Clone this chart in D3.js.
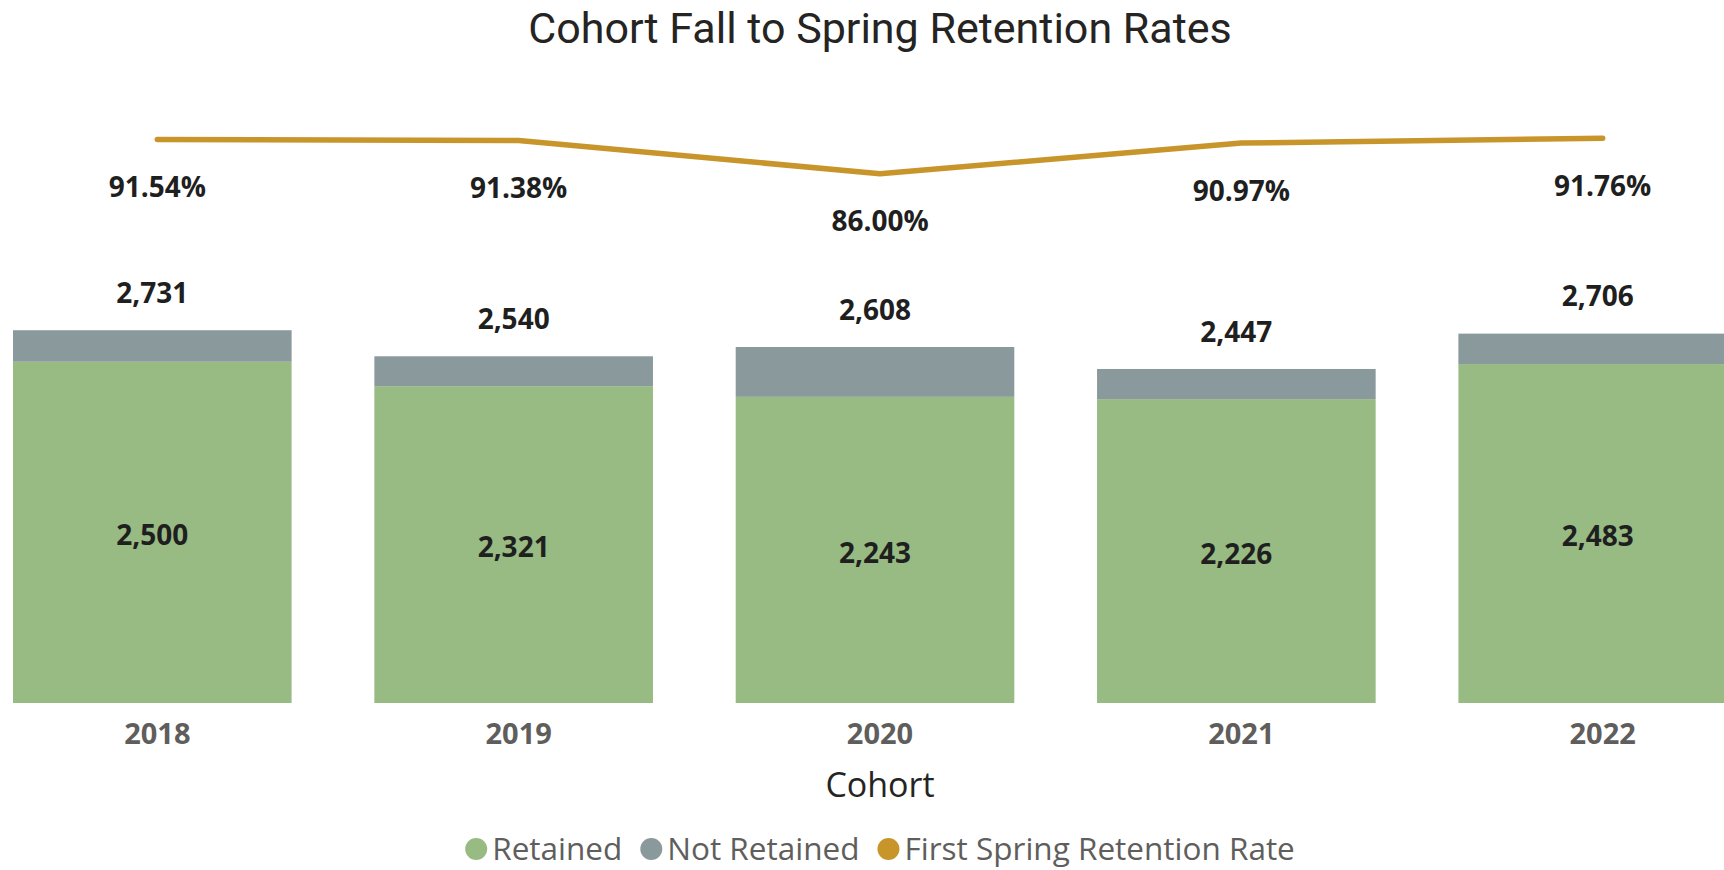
<!DOCTYPE html>
<html>
<head>
<meta charset="utf-8">
<script src="https://cdn.jsdelivr.net/npm/d3@7"></script>
<style>
    body { margin: 0; background: #fff; }
    svg { display: block; }
</style>
</head>
<body>
<div id="chart"></div>
<script>
// Cohort data
const cohorts = ['2018', '2019', '2020', '2021', '2022'];
const retained = [2500, 2321, 2243, 2226, 2483];
const notRetained = [231, 219, 365, 221, 223];
const totals = [2731, 2540, 2608, 2447, 2706];
const retentionRate = [91.54, 91.38, 86.00, 90.97, 91.76];
const legendItems = ['Retained', 'Not Retained', 'First Spring Retention Rate'];

const colors = {
    retained: '#97BB83',
    notRetained: '#8A999B',
    rate: '#C8952B'
};

function drawChart() {
    const width = 1724, height = 870;
    const svg = d3.select('#chart').append('svg')
        .attr('width', width)
        .attr('height', height);

    // Title
    svg.append('text')
        .attr('x', 880)
        .attr('y', 43)
        .attr('text-anchor', 'middle')
        .attr('font-family', 'Roboto, sans-serif')
        .attr('font-size', 43)
        .attr('fill', '#252423')
        .text('Cohort Fall to Spring Retention Rates');

    // Scales
    const x = d3.scaleBand()
        .domain(cohorts)
        .range([13, 1737])
        .paddingInner(0.229)
        .paddingOuter(0);

    const y = d3.scaleLinear()
        .domain([0, 5000])
        .range([703, 20.5]);

    const yRate = d3.scaleLinear()
        .domain([80, 95])
        .range([210.6, 118.3]);

    // the line and axis labels sit a little right of the bar centre
    const shift = 5;
    const cx = d => x(d) + x.bandwidth() / 2;

    const rows = cohorts.map((c, i) => ({
        cohort: c,
        retained: retained[i],
        notRetained: notRetained[i],
        total: totals[i],
        rate: retentionRate[i]
    }));

    // Bars
    svg.selectAll('.bar-retained')
        .data(rows)
        .join('rect')
        .attr('class', 'bar-retained')
        .attr('x', d => x(d.cohort))
        .attr('width', x.bandwidth())
        .attr('y', d => y(d.retained))
        .attr('height', d => y(0) - y(d.retained))
        .attr('fill', colors.retained);

    svg.selectAll('.bar-not')
        .data(rows)
        .join('rect')
        .attr('class', 'bar-not')
        .attr('x', d => x(d.cohort))
        .attr('width', x.bandwidth())
        .attr('y', d => y(d.retained + d.notRetained))
        .attr('height', d => y(d.retained) - y(d.retained + d.notRetained))
        .attr('fill', colors.notRetained);

    const fmt = d3.format(',');
    const labelFont = '"Open Sans", sans-serif';

    // Retained labels inside bars
    svg.selectAll('.lbl-in')
        .data(rows)
        .join('text')
        .attr('class', 'lbl-in')
        .attr('x', d => cx(d.cohort))
        .attr('y', d => (y(d.retained) + y(0)) / 2 + 3)
        .attr('dy', '0.35em')
        .attr('text-anchor', 'middle')
        .attr('font-family', labelFont)
        .attr('font-weight', 700)
        .attr('font-size', 28)
        .attr('fill', '#1f1f1f')
        .text(d => fmt(d.retained));

    // Totals above bars
    svg.selectAll('.lbl-total')
        .data(rows)
        .join('text')
        .attr('class', 'lbl-total')
        .attr('x', d => cx(d.cohort))
        .attr('y', d => y(d.total) - 37)
        .attr('dy', '0.35em')
        .attr('text-anchor', 'middle')
        .attr('font-family', labelFont)
        .attr('font-weight', 700)
        .attr('font-size', 28)
        .attr('fill', '#1f1f1f')
        .text(d => fmt(d.total));

    // Retention rate line
    const line = d3.line()
        .x(d => cx(d.cohort) + shift)
        .y(d => yRate(d.rate));

    svg.append('path')
        .datum(rows)
        .attr('d', line)
        .attr('fill', 'none')
        .attr('stroke', colors.rate)
        .attr('stroke-width', 5.5)
        .attr('stroke-linecap', 'round')
        .attr('stroke-linejoin', 'round');

    svg.selectAll('.lbl-rate')
        .data(rows)
        .join('text')
        .attr('class', 'lbl-rate')
        .attr('x', d => cx(d.cohort) + shift)
        .attr('y', d => yRate(d.rate) + 48)
        .attr('dy', '0.35em')
        .attr('text-anchor', 'middle')
        .attr('font-family', labelFont)
        .attr('font-weight', 700)
        .attr('font-size', 28)
        .attr('fill', '#1f1f1f')
        .text(d => d.rate.toFixed(2) + '%');

    // X axis (no line, no ticks)
    const xAxis = svg.append('g')
        .attr('transform', `translate(${shift},703)`)
        .call(d3.axisBottom(x).tickSize(0).tickPadding(0));
    xAxis.select('.domain').remove();
    xAxis.selectAll('text')
        .attr('y', 31)
        .attr('dy', '0.35em')
        .attr('font-family', labelFont)
        .attr('font-weight', 700)
        .attr('font-size', 29)
        .attr('fill', '#605E5C');

    // Axis title
    svg.append('text')
        .attr('x', 880)
        .attr('y', 785)
        .attr('dy', '0.35em')
        .attr('text-anchor', 'middle')
        .attr('font-family', labelFont)
        .attr('font-size', 34)
        .attr('fill', '#252423')
        .text('Cohort');

    // Legend
    const legendColors = [colors.retained, colors.notRetained, colors.rate];
    const legend = svg.append('g');
    let lx = 0;
    legendItems.forEach((name, i) => {
        const item = legend.append('g').attr('transform', `translate(${lx},0)`);
        item.append('circle')
            .attr('cx', 11)
            .attr('cy', 0)
            .attr('r', 11)
            .attr('fill', legendColors[i]);
        const t = item.append('text')
            .attr('x', 27)
            .attr('y', 0)
            .attr('dy', '0.35em')
            .attr('font-family', labelFont)
            .attr('font-size', 31.5)
            .attr('fill', '#605E5C')
            .text(name);
        lx += 27 + t.node().getComputedTextLength() + 18;
    });
    const legendWidth = lx - 18;
    legend.attr('transform', `translate(${880 - legendWidth / 2},849)`);
}

drawChart();
</script>
</body>
</html>
